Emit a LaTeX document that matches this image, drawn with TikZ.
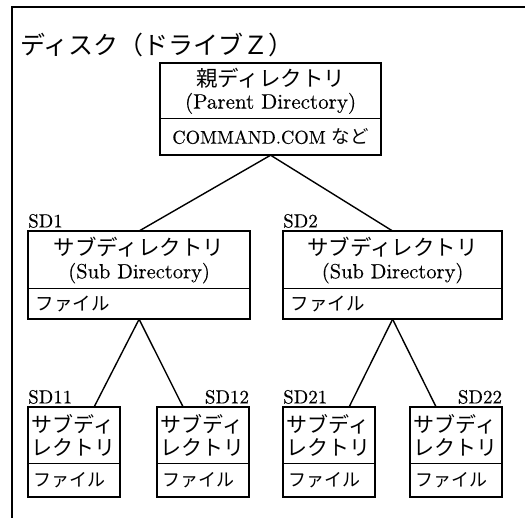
\documentclass[tikz,border=0pt]{standalone}
\usepackage{fontspec}
\setmainfont{lmroman10-regular.otf}[FakeBold=0.3]
\newfontfamily\jp{Noto Sans CJK JP}
\tikzset{
  part/.style={draw, line width=1.2pt, inner sep=0pt, anchor=north west, align=center},
  filepart/.style={part, align=left, inner xsep=7pt, minimum height=30pt, font=\jp\fontsize{18.5}{20}\selectfont},
  smallpart/.style={part, align=left, inner xsep=3pt, text width=85pt, minimum height=56pt, font=\jp\fontsize{21}{23}\selectfont},
  smallfile/.style={part, align=left, inner xsep=5pt, text width=81pt, minimum height=33pt, font=\jp\fontsize{18}{20}\selectfont},
  outer/.style={line width=2.4pt},
  frame/.style={line width=2pt},
  conn/.style={line width=1.4pt},
  lbl/.style={font=\fontsize{19}{19}\selectfont, inner sep=0pt},
}
\begin{document}
\begin{tikzpicture}[x=1pt,y=1pt]
\useasboundingbox (0,0) rectangle (525,-517);
\draw[frame] (530,-7) -- (12,-7) -- (12,-530);
\node[anchor=west, inner sep=0pt, font=\jp\fontsize{25}{25}\selectfont] (title) at (20,-45) {ディスク（ドライブＺ）};

% parent
\node[part, minimum width=220pt, minimum height=55pt, font=\fontsize{21}{22}\selectfont] (p) at (160,-63) {{\jp\fontsize{21.5}{22}\selectfont 親ディレクトリ}\\(Parent Directory)};
\node[part, minimum width=220pt, minimum height=36pt, font=\fontsize{18.5}{20}\selectfont] (pf) at (160,-118) {COMMAND.COM {\jp など}};
\draw[outer] (p.north west) rectangle (pf.south east);

% SD1
\node[part, minimum width=221pt, minimum height=57pt, font=\fontsize{20.5}{23}\selectfont] (sd1) at (28,-231) {{\jp\fontsize{21.5}{23}\selectfont サブディレクトリ}\\(Sub Directory)};
\node[filepart, text width=207pt] (sd1f) at (28,-288) {ファイル};
\draw[outer] (sd1.north west) rectangle (sd1f.south east);
\node[lbl, anchor=south west] (l1) at ([yshift=3pt]sd1.north west) {SD1};

% SD2
\node[part, minimum width=218pt, minimum height=57pt, font=\fontsize{20.5}{23}\selectfont] (sd2) at (283,-231) {{\jp\fontsize{21.5}{23}\selectfont サブディレクトリ}\\(Sub Directory)};
\node[filepart, text width=204pt] (sd2f) at (283,-288) {ファイル};
\draw[outer] (sd2.north west) rectangle (sd2f.south east);
\node[lbl, anchor=south west] (l2) at ([yshift=3pt]sd2.north west) {SD2};

% small boxes
\node[smallpart] (sd11) at (28,-407) {サブディ\\レクトリ};
\node[smallfile] (sd11f) at (28,-463) {ファイル};
\draw[outer] (sd11.north west) rectangle (sd11f.south east);
\node[lbl, anchor=south west] (l11) at ([yshift=3pt]sd11.north west) {SD11};

\node[smallpart] (sd12) at (157,-407) {サブディ\\レクトリ};
\node[smallfile] (sd12f) at (157,-463) {ファイル};
\draw[outer] (sd12.north west) rectangle (sd12f.south east);
\node[lbl, anchor=south east] (l12) at ([yshift=3pt]sd12.north east) {SD12};

\node[smallpart] (sd21) at (283,-407) {サブディ\\レクトリ};
\node[smallfile] (sd21f) at (283,-463) {ファイル};
\draw[outer] (sd21.north west) rectangle (sd21f.south east);
\node[lbl, anchor=south west] (l21) at ([yshift=3pt]sd21.north west) {SD21};

\node[smallpart] (sd22) at (410,-407) {サブディ\\レクトリ};
\node[smallfile] (sd22f) at (410,-463) {ファイル};
\draw[outer] (sd22.north west) rectangle (sd22f.south east);
\node[lbl, anchor=south east] (l22) at ([yshift=3pt]sd22.north east) {SD22};

% connectors
\coordinate (c11) at ([xshift=20pt]sd11.north);
\coordinate (c12) at ([xshift=-20pt]sd12.north);
\coordinate (c21) at ([xshift=20pt]sd21.north);
\coordinate (c22) at ([xshift=-20pt]sd22.north);
\draw[conn] (pf.south) -- (sd1.north);
\draw[conn] (pf.south) -- (sd2.north);
\draw[conn] (sd1f.south) -- (c11);
\draw[conn] (sd1f.south) -- (c12);
\draw[conn] (sd2f.south) -- (c21);
\draw[conn] (sd2f.south) -- (c22);
\end{tikzpicture}
\end{document}
